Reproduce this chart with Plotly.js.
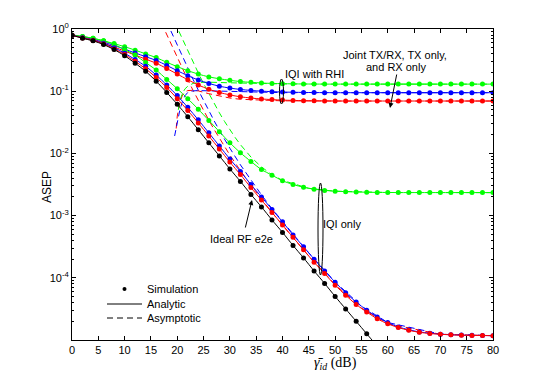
<!DOCTYPE html>
<html><head><meta charset="utf-8">
<script src="https://cdn.plot.ly/plotly-3.0.1.min.js"></script>
<style>html,body{margin:0;padding:0;background:#fff}#chart{width:545px;height:382px}</style>
</head><body><div id="chart"></div>
<script>
// SNR grid (dB) of the simulation points / analytic curves
const snr = [0,2,4,6,8,10,12,14,16,18,20,22,24,26,28,30,32,34,36,38,40,42,44,46,48,50,52,54,56,58,60,62,64,66,68,70,72,74,76,78,80];
// ASEP values, stored as log10 exponents
const blackSnr = [0,2,4,6,8,10,12,14,16,18,20,22,24,26,28,30,32,34,36,38,40,42,44,46,48,50,52,54,56,58];
const blackExp = [-0.10,-0.15,-0.19,-0.25,-0.33,-0.43,-0.55,-0.68,-0.84,-1.02,-1.21,-1.41,-1.62,-1.83,-2.04,-2.25,-2.45,-2.66,-2.86,-3.07,-3.27,-3.48,-3.68,-3.89,-4.09,-4.30,-4.50,-4.70,-4.90,-5.10];
const redIqiExp = [-0.10,-0.145,-0.185,-0.24,-0.32,-0.41,-0.52,-0.64,-0.78,-0.94,-1.12,-1.31,-1.51,-1.72,-1.93,-2.14,-2.34,-2.55,-2.75,-2.95,-3.15,-3.35,-3.55,-3.75,-3.93,-4.12,-4.28,-4.43,-4.55,-4.66,-4.74,-4.80,-4.845,-4.876,-4.896,-4.908,-4.917,-4.922,-4.926,-4.928,-4.93];
const blueIqiExp = [-0.10,-0.14,-0.18,-0.23,-0.30,-0.39,-0.49,-0.60,-0.74,-0.90,-1.07,-1.26,-1.46,-1.67,-1.88,-2.09,-2.29,-2.50,-2.70,-2.90,-3.10,-3.31,-3.50,-3.70,-3.89,-4.07,-4.24,-4.39,-4.52,-4.63,-4.72,-4.79,-4.836,-4.87,-4.89,-4.906,-4.915,-4.921,-4.925,-4.928,-4.93];
const greenIqiExp = [-0.10,-0.12,-0.15,-0.19,-0.25,-0.33,-0.42,-0.54,-0.66,-0.81,-0.96,-1.12,-1.29,-1.47,-1.65,-1.83,-1.99,-2.13,-2.26,-2.35,-2.44,-2.50,-2.545,-2.575,-2.595,-2.607,-2.615,-2.62,-2.624,-2.627,-2.628,-2.63,-2.63,-2.63,-2.63,-2.63,-2.63,-2.63,-2.63,-2.63,-2.63];
const greenRhiExp = [-0.095,-0.12,-0.15,-0.19,-0.235,-0.285,-0.34,-0.40,-0.46,-0.535,-0.605,-0.67,-0.725,-0.77,-0.80,-0.825,-0.845,-0.858,-0.868,-0.875,-0.879,-0.882,-0.884,-0.885,-0.886,-0.886,-0.886,-0.886,-0.886,-0.886,-0.886,-0.886,-0.886,-0.886,-0.886,-0.886,-0.886,-0.886,-0.886,-0.886,-0.886];
const blueRhiExp = [-0.10,-0.13,-0.165,-0.21,-0.265,-0.325,-0.385,-0.445,-0.505,-0.585,-0.67,-0.75,-0.82,-0.875,-0.92,-0.95,-0.972,-0.988,-0.999,-1.007,-1.013,-1.017,-1.02,-1.022,-1.023,-1.024,-1.024,-1.024,-1.024,-1.024,-1.024,-1.024,-1.024,-1.024,-1.024,-1.024,-1.024,-1.024,-1.024,-1.024,-1.024];
const redRhiExp = [-0.10,-0.135,-0.175,-0.225,-0.29,-0.355,-0.42,-0.485,-0.55,-0.635,-0.725,-0.815,-0.90,-0.97,-1.02,-1.06,-1.09,-1.11,-1.125,-1.135,-1.143,-1.148,-1.152,-1.154,-1.156,-1.157,-1.158,-1.158,-1.158,-1.158,-1.158,-1.158,-1.158,-1.158,-1.158,-1.158,-1.158,-1.158,-1.158,-1.158,-1.158];
// Asymptotic curves (dashed)
const redIqiAsymSnr = [17,18,19,20,21,22,23,24,25,26,27,28,29,30,32,34,36,38,40,45,50,55,60,70,80];
const redIqiAsymExp = [0.094,-0.094,-0.28,-0.462,-0.641,-0.816,-0.986,-1.152,-1.312,-1.466,-1.615,-1.758,-1.895,-2.027,-2.277,-2.511,-2.734,-2.948,-3.156,-3.652,-4.108,-4.487,-4.738,-4.908,-4.93];
const blueIqiAsymSnr = [18,19,20,21,22,23,24,25,26,27,28,29,30,32,34,36,38,40,45,50,55,60,70,80];
const blueIqiAsymExp = [0.114,-0.076,-0.264,-0.449,-0.630,-0.809,-0.983,-1.152,-1.316,-1.475,-1.628,-1.775,-1.917,-2.184,-2.433,-2.666,-2.889,-3.097,-3.60,-4.066,-4.455,-4.719,-4.905,-4.93];
const greenIqiAsymSnr = [19.5,20,21,22,23,24,25,26,27,28,29,30,31,32,34,36,38,40,45,50,60,80];
const greenIqiAsymExp = [0.11,0.016,-0.170,-0.353,-0.532,-0.707,-0.877,-1.040,-1.197,-1.347,-1.488,-1.621,-1.744,-1.859,-2.058,-2.218,-2.342,-2.434,-2.562,-2.608,-2.6285,-2.631];
const redRhiAsymSnr = [19.8,20,20.5,21,21.5,22,23,24,26,28,30,32,36,40,50,80];
const redRhiAsymExp = [-1.6,-1.4,-1.18,-1.06,-1.01,-0.99,-0.985,-0.995,-1.04,-1.08,-1.11,-1.13,-1.148,-1.155,-1.158,-1.158];
const blueRhiAsymSnr = [19.5,20,20.5,21,21.5,22,23,24,26,30,36,40,50,80];
const blueRhiAsymExp = [-1.72,-1.5,-1.3,-1.16,-1.07,-1.02,-0.995,-0.99,-0.995,-1.01,-1.02,-1.023,-1.024,-1.024];
const greenRhiAsymSnr = [20.2,20.5,21,21.5,22,23,24,26,30,36,40,50,80];
const greenRhiAsymExp = [-1.3,-1.15,-1.03,-0.96,-0.92,-0.875,-0.86,-0.855,-0.865,-0.878,-0.883,-0.886,-0.886];
// Axis tick labels
const yTickVals = [1,0.1,0.01,0.001,0.0001];
const yTickText = ['10<sup>0</sup>','10<sup>-1</sup>','10<sup>-2</sup>','10<sup>-3</sup>','10<sup>-4</sup>'];
const legendNames = ['Simulation','Analytic','Asymptotic'];

const pw = e => e.map(v => Math.pow(10, v));
const GREEN = 'rgb(0,255,0)', BLUE = 'rgb(0,0,255)', RED = 'rgb(255,0,0)', BLACK = 'rgb(0,0,0)';
const DASH = '6px,4px';
const traces = [];
function asym(x, e, c){ traces.push({x:x, y:pw(e), mode:'lines', type:'scatter', showlegend:false,
  line:{color:c, width:1, dash:DASH}}); }
function curve(x, e, c){ traces.push({x:x, y:pw(e), mode:'lines+markers', type:'scatter', showlegend:false,
  line:{color:c, width:1, shape:'spline', smoothing:0.6}, marker:{color:c, size:5}}); }
asym(redIqiAsymSnr, redIqiAsymExp, RED);
asym(blueIqiAsymSnr, blueIqiAsymExp, BLUE);
asym(greenIqiAsymSnr, greenIqiAsymExp, GREEN);
asym(redRhiAsymSnr, redRhiAsymExp, RED);
asym(blueRhiAsymSnr, blueRhiAsymExp, BLUE);
asym(greenRhiAsymSnr, greenRhiAsymExp, GREEN);
curve(snr, greenRhiExp, GREEN);
curve(snr, blueRhiExp, BLUE);
curve(snr, redRhiExp, RED);
curve(snr, greenIqiExp, GREEN);
curve(snr, blueIqiExp, BLUE);
curve(snr, redIqiExp, RED);
curve(blackSnr, blackExp, BLACK);
// legend entries (one legend each so their spacing can follow the reference)
traces.push({x:[null], y:[null], mode:'markers', name:legendNames[0], legend:'legend', marker:{color:BLACK, size:4}});
traces.push({x:[null], y:[null], mode:'lines', name:legendNames[1], legend:'legend2', line:{color:BLACK, width:1}});
traces.push({x:[null], y:[null], mode:'lines', name:legendNames[2], legend:'legend3', line:{color:BLACK, width:1, dash:DASH}});

const minorVals = [];
for (let d = -5; d < 0; d++) for (let k = 2; k <= 9; k++) minorVals.push(k * Math.pow(10, d));

const FONT = 'Liberation Sans, Arial, sans-serif';
const W = 421, H = 311, L = 72, T = 29;
const px = x => (x - L) / W, py = y => (T + H - y) / H;
const leg = yy => ({x:px(102), y:py(yy), xanchor:'left', yanchor:'middle', bgcolor:'rgba(0,0,0,0)',
  font:{family:FONT, size:11}, itemwidth:35, borderwidth:0});
const ann = (x, y, text, extra) => Object.assign({xref:'paper', yref:'paper', x:px(x), y:py(y), text:text,
  showarrow:false, xanchor:'center', yanchor:'middle', font:{size:11}}, extra || {});

const layout = {
  width:545, height:382, margin:{l:72, r:52, t:29, b:42},
  paper_bgcolor:'#fff', plot_bgcolor:'#fff', showlegend:true,
  font:{family:FONT, size:11, color:'#000'},
  xaxis:{range:[0,80], tick0:0, dtick:5, ticks:'inside', ticklen:4, tickcolor:'#000',
    showline:true, linecolor:'#000', linewidth:1, mirror:'ticks', showgrid:false, zeroline:false,
    tickfont:{family:FONT, size:11}},
  yaxis:{type:'log', range:[-5,0], tickmode:'array', tickvals:yTickVals, ticktext:yTickText,
    ticks:'inside', ticklen:4, tickcolor:'#000', showline:true, linecolor:'#000', linewidth:1,
    mirror:'ticks', showgrid:false, zeroline:false, tickfont:{family:FONT, size:11},
    minor:{tickmode:'array', tickvals:minorVals, ticks:'inside', ticklen:2, tickcolor:'#000', showgrid:false}},
  legend:leg(289), legend2:leg(304), legend3:leg(318),
  annotations:[
    ann(314, 74, 'IQI with RHI'),
    ann(395, 55, 'Joint TX/RX, TX only,'),
    ann(396, 67, 'and RX only'),
    {xref:'paper', yref:'paper', x:px(390), y:py(108), ax:7, ay:-35, text:'', showarrow:true, arrowhead:2, arrowsize:1, arrowwidth:1, arrowcolor:'#000'},
    ann(342, 224, 'IQI only'),
    ann(241.5, 239, 'Ideal RF e2e'),
    {xref:'paper', yref:'paper', x:px(252), y:py(200), ax:-7, ay:29, text:'', showarrow:true, arrowhead:2, arrowsize:1, arrowwidth:1, arrowcolor:'#000'},
    ann(335, 363, '<i>γ̄</i><sub><i>id</i></sub> (dB)', {font:{family:'Liberation Serif, DejaVu Serif, serif', size:14}}),
    ann(47, 187, 'ASEP', {textangle:-90, font:{size:12}})
  ],
  shapes:[
    {type:'circle', xref:'paper', yref:'paper', x0:px(279.5), x1:px(283.5), y0:py(104), y1:py(79), line:{color:'#000', width:1}},
    {type:'circle', xref:'paper', yref:'paper', x0:px(318), x1:px(323), y0:py(275), y1:py(183), line:{color:'#000', width:1}}
  ]
};
Plotly.newPlot('chart', traces, layout, {staticPlot:true, displayModeBar:false});
</script></body></html>
